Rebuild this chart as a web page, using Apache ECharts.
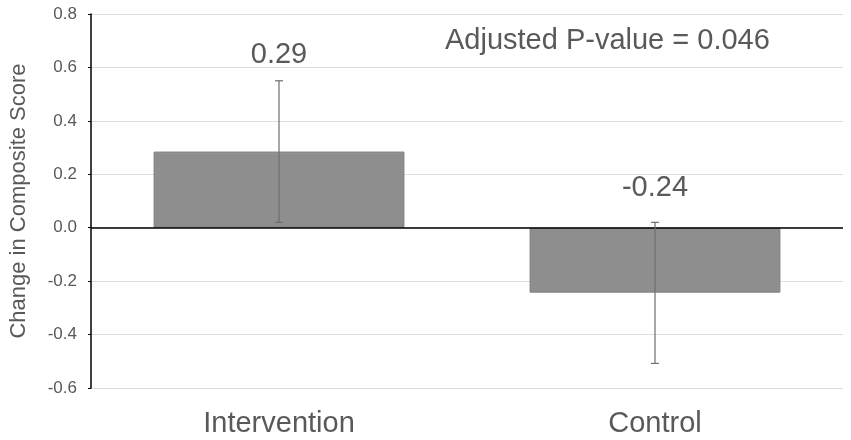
<!DOCTYPE html>
<html>
<head>
<meta charset="utf-8">
<script src="https://cdn.jsdelivr.net/npm/echarts@6/dist/echarts.min.js"></script>
<style>
  html, body { margin: 0; padding: 0; background: #fff; }
  #main { width: 851px; height: 440px; }
</style>
</head>
<body>
<div id="main"></div>
<script>
// data
var categories = ['Intervention', 'Control'];
var means = [0.285, -0.243];
var errLow = [0.02, -0.508];
var errHigh = [0.55, 0.02];
var valueLabels = ['0.29', '-0.24'];
var pValueText = 'Adjusted P-value = 0.046';

// how far each value label sits above its error bar (px)
var labelLift = [11, 20];

function drawChart() {
    var chartDom = document.getElementById('main');
    var myChart = echarts.init(chartDom);

    var errData = categories.map(function (c, i) {
        return [i, errLow[i], errHigh[i], valueLabels[i]];
    });

    var option = {
        animation: false,
        textStyle: { fontFamily: 'Liberation Sans, Arial, sans-serif' },
        grid: { left: 90, right: 8, top: 14, bottom: 52 },
        graphic: [{
            type: 'text',
            left: 445,
            top: 26,
            style: {
                text: pValueText,
                fill: '#595959',
                font: '29px "Liberation Sans", Arial, sans-serif'
            }
        }],
        xAxis: {
            type: 'category',
            data: categories,
            axisLine: { show: false },
            axisTick: { show: false },
            axisLabel: {
                color: '#595959',
                fontSize: 29,
                margin: 21
            }
        },
        yAxis: {
            type: 'value',
            min: -0.6,
            max: 0.8,
            interval: 0.2,
            name: 'Change in Composite Score',
            nameLocation: 'middle',
            nameGap: 61,
            nameTextStyle: { color: '#595959', fontSize: 22 },
            axisLine: { show: true, onZero: false, lineStyle: { color: '#000', width: 1.5 } },
            axisTick: { show: true, length: 3, lineStyle: { color: '#000' } },
            axisLabel: {
                color: '#595959',
                fontSize: 17,
                margin: 14,
                formatter: function (v) { return v.toFixed(1); }
            },
            splitLine: { lineStyle: { color: '#dcdcdc', width: 1.2 } }
        },
        series: [
            {
                type: 'bar',
                data: means,
                barWidth: '66.7%',
                itemStyle: {
                    color: new echarts.graphic.LinearGradient(0, 0, 0, 1, [
                        { offset: 0, color: '#a8a8a8' },
                        { offset: 0.03, color: '#8e8e8e' },
                        { offset: 1, color: '#8e8e8e' }
                    ]),
                    borderColor: '#7c7c7c',
                    borderWidth: 1
                },
                markLine: {
                    silent: true,
                    symbol: 'none',
                    label: { show: false },
                    lineStyle: { color: '#000', width: 1.6, type: 'solid' },
                    data: [{ yAxis: 0 }]
                },
                z: 2
            },
            {
                type: 'custom',
                data: errData,
                z: 5,
                renderItem: function (params, api) {
                    var x = api.value(0);
                    var lo = api.coord([x, api.value(1)]);
                    var hi = api.coord([x, api.value(2)]);
                    var cap = 4;
                    var st = { stroke: '#6e6e6e', lineWidth: 1.2 };
                    return {
                        type: 'group',
                        children: [
                            { type: 'line', shape: { x1: hi[0], y1: hi[1], x2: lo[0], y2: lo[1] }, style: st },
                            { type: 'line', shape: { x1: hi[0] - cap, y1: hi[1], x2: hi[0] + cap, y2: hi[1] }, style: st },
                            { type: 'line', shape: { x1: lo[0] - cap, y1: lo[1], x2: lo[0] + cap, y2: lo[1] }, style: st },
                            {
                                type: 'text',
                                x: hi[0],
                                y: hi[1] - labelLift[params.dataIndex],
                                style: {
                                    text: api.value(3),
                                    fill: '#595959',
                                    font: '29px "Liberation Sans", Arial, sans-serif',
                                    align: 'center',
                                    verticalAlign: 'bottom'
                                }
                            }
                        ]
                    };
                }
            }
        ]
    };
    myChart.setOption(option);
}
drawChart();
</script>
</body>
</html>
